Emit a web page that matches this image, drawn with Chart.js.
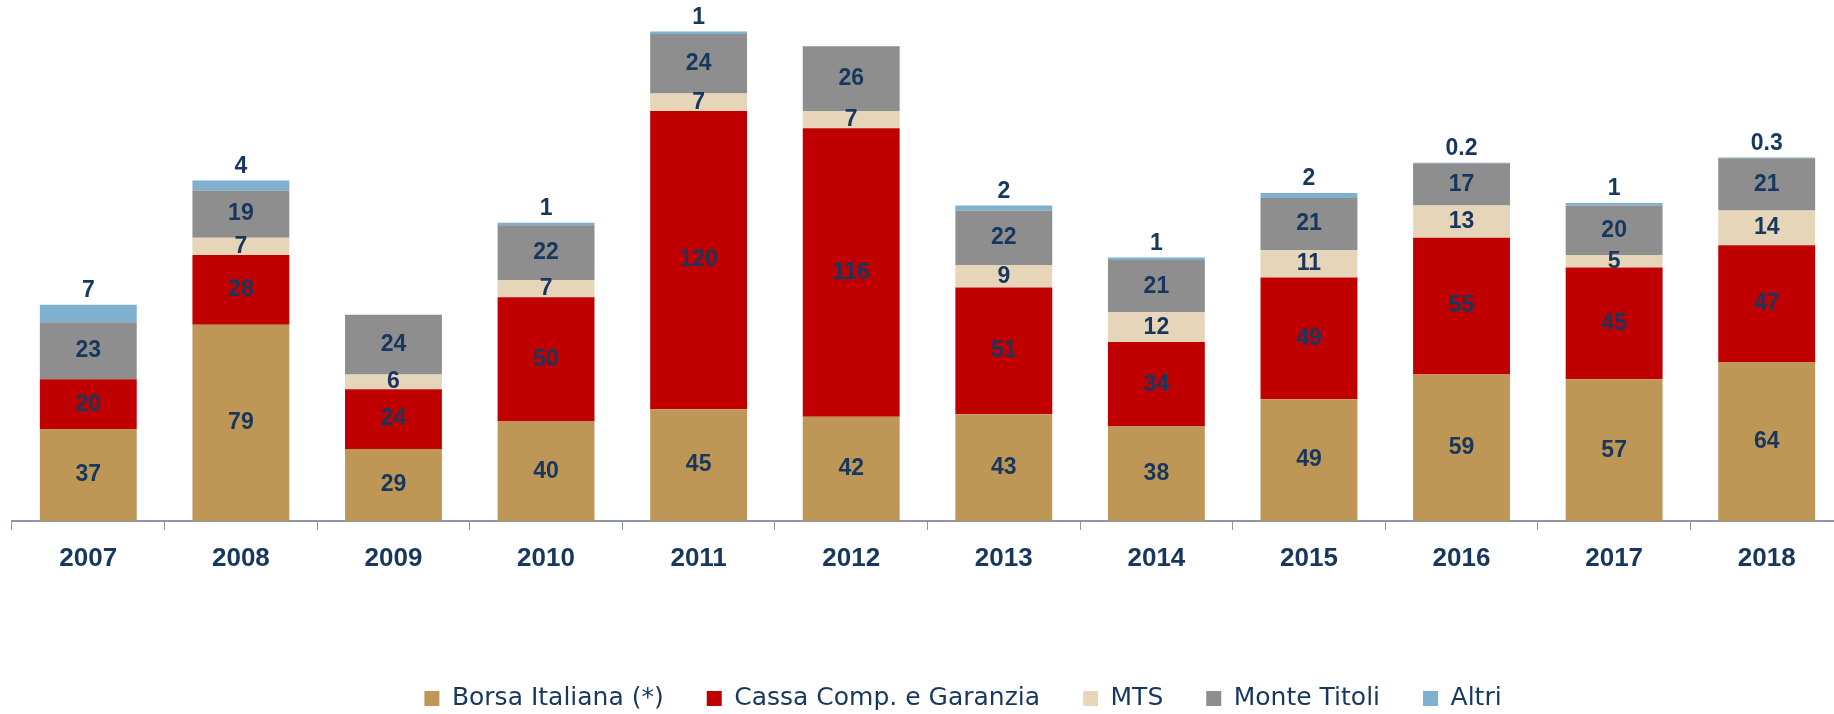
<!DOCTYPE html>
<html>
<head>
<meta charset="utf-8">
<title>Ricavi per segmento</title>
<script src="https://cdn.jsdelivr.net/npm/chart.js@4"></script>
<style>
  html, body { margin: 0; padding: 0; background: #fff; overflow: hidden; }
  #wrap { width: 1914px; height: 721px; }
</style>
</head>
<body>
<div id="wrap"><canvas id="ricaviChart" width="1914" height="721"></canvas></div>
<script>
const anni = ['2007', '2008', '2009', '2010', '2011', '2012', '2013', '2014', '2015', '2016', '2017', '2018'];

const borsaItaliana = [37, 79, 29, 40, 45, 42, 43, 38, 49, 59, 57, 64];
const cassaCompensazione = [20, 28, 24, 50, 120, 116, 51, 34, 49, 55, 45, 47];
const mts = [0, 7, 6, 7, 7, 7, 9, 12, 11, 13, 5, 14];
const monteTitoli = [23, 19, 24, 22, 24, 26, 22, 21, 21, 17, 20, 21];
const altri = [7, 4, 0, 1, 1, 0, 2, 1, 2, 0.2, 1, 0.3];

const NAVY = '#17375e';
const FONT = '"Liberation Sans", Arial, sans-serif';

// labels inside each segment; the last series gets its value above the stack
const valueLabels = {
    id: 'valueLabels',
    afterDatasetsDraw(chart) {
        const ctx = chart.ctx;
        const last = chart.data.datasets.length - 1;
        ctx.save();
        ctx.fillStyle = NAVY;
        ctx.font = 'bold 23px ' + FONT;
        ctx.textAlign = 'center';
        ctx.textBaseline = 'middle';
        chart.data.datasets.forEach((ds, i) => {
            const meta = chart.getDatasetMeta(i);
            meta.data.forEach((bar, j) => {
                const v = ds.data[j];
                if (!v) return;
                const y = i === last ? bar.y - 14 : (bar.y + bar.base) / 2;
                ctx.fillText(String(v), bar.x, y);
            });
        });
        ctx.restore();
    }
};

function initRicaviChart() {
    const ctx = document.getElementById('ricaviChart').getContext('2d');
    new Chart(ctx, {
        type: 'bar',
        data: {
            labels: anni,
            datasets: [
                { label: 'Borsa Italiana (*)', data: borsaItaliana, backgroundColor: '#be9656' },
                { label: 'Cassa Comp. e Garanzia', data: cassaCompensazione, backgroundColor: '#c00000' },
                { label: 'MTS', data: mts, backgroundColor: '#e6d5b9' },
                { label: 'Monte Titoli', data: monteTitoli, backgroundColor: '#8e8e8e' },
                { label: 'Altri', data: altri, backgroundColor: '#7fb0d0' }
            ]
        },
        options: {
            responsive: false,
            animation: false,
            devicePixelRatio: 1,
            layout: { padding: { left: 12, right: 0, top: 24, bottom: 0 } },
            datasets: {
                bar: { categoryPercentage: 1, barPercentage: 0.635, borderWidth: 0 }
            },
            plugins: {
                tooltip: { enabled: false },
                legend: {
                    position: 'bottom',
                    labels: {
                        boxWidth: 15,
                        boxHeight: 15,
                        padding: 43,
                        color: NAVY,
                        font: { family: '"DejaVu Sans", sans-serif', size: 25 }
                    }
                }
            },
            scales: {
                x: {
                    stacked: true,
                    grid: {
                        offset: true,
                        drawOnChartArea: false,
                        drawTicks: true,
                        tickLength: 9,
                        color: '#8c95a8'
                    },
                    border: { display: true, color: '#8c95a8', width: 2 },
                    ticks: {
                        color: NAVY,
                        padding: 13,
                        font: { family: FONT, size: 26, weight: 'bold' }
                    },
                    afterFit: (scale) => { scale.height = 122; }
                },
                y: {
                    stacked: true,
                    position: 'right',
                    min: 0,
                    max: 200,
                    ticks: { display: false },
                    grid: { display: false },
                    border: { display: false },
                    afterFit: (scale) => { scale.width = 71; }
                }
            }
        },
        plugins: [valueLabels]
    });
}

document.addEventListener('DOMContentLoaded', () => {
    initRicaviChart();
});
</script>
</body>
</html>
